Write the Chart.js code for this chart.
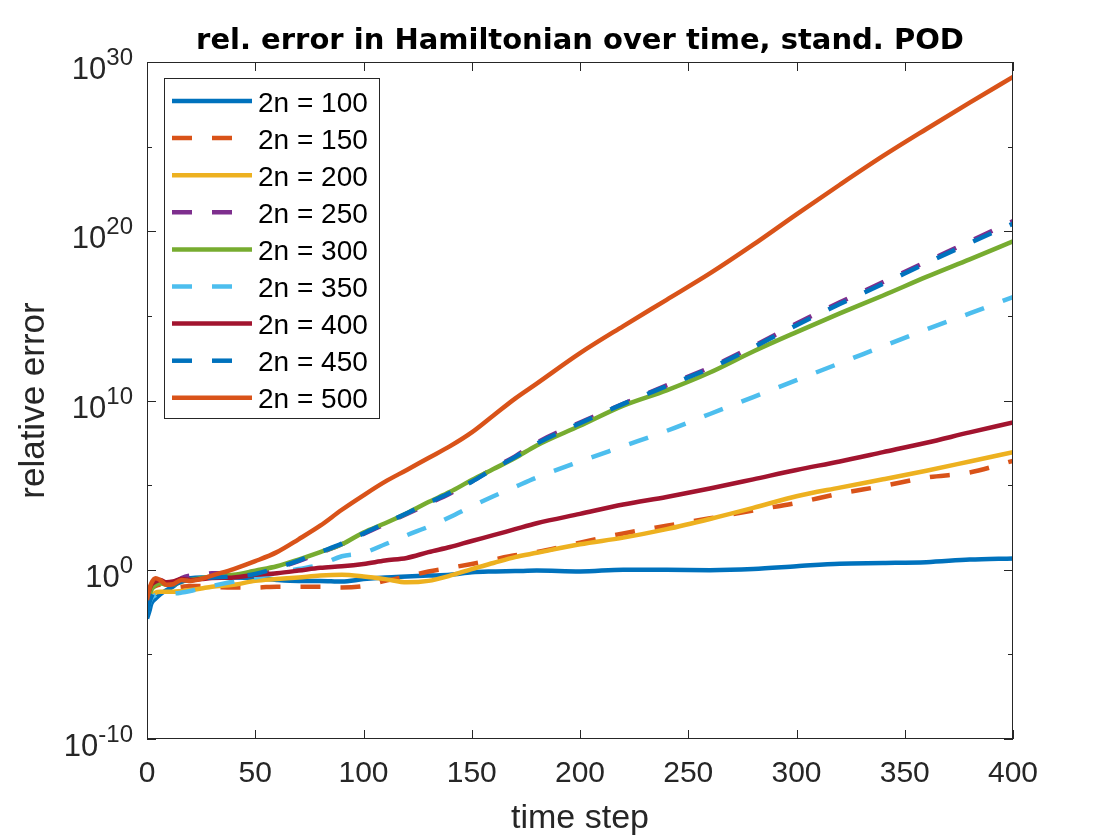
<!DOCTYPE html>
<html>
<head>
<meta charset="utf-8">
<script src="https://cdn.jsdelivr.net/npm/chart.js@4.4.0/dist/chart.umd.min.js"></script>
<style>
  html, body { margin: 0; padding: 0; background: #fff; }
  #wrap { width: 1120px; height: 840px; }
</style>
</head>
<body>
<div id="wrap"><canvas id="grafico" width="1120" height="840"></canvas></div>
<script>
// pasos de tiempo donde se leyeron los valores
const steps = [0, 1, 2, 4, 6, 9, 12, 16, 20, 25, 30, 40, 50, 60, 70, 80, 90, 100, 110, 120,
               130, 140, 150, 160, 170, 180, 200, 220, 240, 260, 280, 300, 320, 340, 360, 380, 400];

// error relativo por tamaño de base (2n)
const err100 = [1.3e-3, 3.2e-3, 1.0e-2, 2.0e-2, 3.5e-2, 6.3e-2, 1.0e-1, 2.5e-1, 3.2e-1, 3.5e-1, 3.5e-1, 3.5e-1, 3.2e-1, 2.5e-1, 2.2e-1, 2.2e-1, 2.0e-1, 2.8e-1, 3.5e-1, 4.0e-1,
                4.5e-1, 5.0e-1, 7.1e-1, 7.9e-1, 8.3e-1, 8.9e-1, 7.9e-1, 1.0, 1.0, 9.5e-1, 1.1, 1.6, 2.3, 2.5, 2.8, 4.0, 4.7];
const err150 = [2.5e-2, 5.0e-2, 7.9e-2, 1.1e-1, 1.3e-1, 1.0e-1, 8.9e-2, 1.0e-1, 1.1e-1, 1.1e-1, 1.0e-1, 8.9e-2, 8.9e-2, 1.0e-1, 1.0e-1, 1.0e-1, 8.9e-2, 1.1e-1, 2.2e-1, 4.0e-1,
                7.9e-1, 1.3, 2.2, 4.0, 7.1, 1.1e1, 4.0e1, 1.4e2, 4.0e2, 1.1e3, 3.2e3, 8.9e3, 3.2e4, 8.9e4, 2.8e5, 5.6e5, 2.7e6];
const err200 = [5.0e-3, 1.3e-2, 2.5e-2, 4.5e-2, 5.0e-2, 5.0e-2, 5.0e-2, 5.6e-2, 6.3e-2, 7.9e-2, 1.0e-1, 1.3e-1, 2.2e-1, 2.8e-1, 3.5e-1, 4.5e-1, 5.0e-1, 4.0e-1, 2.8e-1, 1.8e-1,
                2.2e-1, 4.5e-1, 1.1, 2.5, 5.6, 1.0e1, 3.2e1, 7.9e1, 2.5e2, 1.0e3, 4.5e3, 2.2e4, 7.1e4, 2.2e5, 7.1e5, 2.5e6, 8.9e6];
const err250 = [1.0e-2, 4.0e-2, 1.0e-1, 2.0e-1, 2.0e-1, 1.6e-1, 1.6e-1, 3.2e-1, 4.5e-1, 5.0e-1, 6.3e-1, 6.3e-1, 7.9e-1, 1.3, 3.2, 1.0e1, 3.2e1, 1.3e2, 5.0e2, 2.0e3,
                7.9e3, 3.2e4, 1.6e5, 1.0e6, 5.0e6, 3.2e7, 5.0e8, 6.3e9, 7.9e10, 8.9e11, 1.6e13, 3.5e14, 6.3e15, 1.0e17, 1.6e18, 2.5e19, 4.0e20];
const err300 = [5.0e-3, 2.5e-2, 6.3e-2, 1.3e-1, 1.6e-1, 1.3e-1, 1.3e-1, 2.0e-1, 2.5e-1, 3.2e-1, 4.0e-1, 5.0e-1, 8.9e-1, 1.6, 4.0, 1.1e1, 3.2e1, 1.6e2, 5.6e2, 2.2e3,
                1.0e4, 4.0e4, 2.0e5, 8.9e5, 4.0e6, 2.2e7, 3.2e8, 5.0e9, 4.0e10, 4.5e11, 7.9e12, 1.1e14, 1.4e15, 1.6e16, 2.0e17, 2.2e18, 2.5e19];
const err350 = [3.2e-3, 1.0e-2, 2.0e-2, 3.2e-2, 4.0e-2, 4.0e-2, 4.0e-2, 4.5e-2, 5.6e-2, 7.9e-2, 1.1e-1, 2.0e-1, 3.5e-1, 6.3e-1, 1.1, 2.0, 6.3, 1.0e1, 3.2e1, 1.1e2,
                3.5e2, 1.3e3, 5.6e3, 2.2e4, 7.9e4, 2.8e5, 2.5e6, 2.0e7, 1.6e8, 1.6e9, 1.6e10, 1.6e11, 1.6e12, 1.6e13, 1.6e14, 1.4e15, 1.3e16];
const err400 = [3.2e-2, 6.3e-2, 1.3e-1, 2.0e-1, 2.5e-1, 1.8e-1, 2.0e-1, 2.8e-1, 2.5e-1, 2.8e-1, 3.2e-1, 3.5e-1, 5.0e-1, 6.3e-1, 8.9e-1, 1.3, 1.6, 2.2, 3.5, 5.0,
                1.1e1, 2.2e1, 5.0e1, 1.1e2, 2.5e2, 5.6e2, 2.0e3, 7.1e3, 2.0e4, 6.3e4, 2.2e5, 7.9e5, 2.5e6, 8.9e6, 3.2e7, 1.3e8, 5.0e8];
const err450 = [2.5e-3, 1.0e-2, 2.5e-2, 6.3e-2, 1.0e-1, 1.0e-1, 1.3e-1, 2.0e-1, 2.5e-1, 3.2e-1, 3.5e-1, 4.0e-1, 5.6e-1, 1.3, 3.5, 1.1e1, 3.5e1, 1.4e2, 5.6e2, 2.2e3,
                8.9e3, 3.5e4, 1.6e5, 8.9e5, 4.5e6, 2.8e7, 4.5e8, 6.3e9, 7.1e10, 7.9e11, 1.4e13, 2.8e14, 5.0e15, 7.9e16, 1.3e18, 2.0e19, 2.8e20];
const err500 = [1.6e-2, 6.3e-2, 1.6e-1, 3.2e-1, 2.5e-1, 1.3e-1, 1.4e-1, 2.5e-1, 2.2e-1, 2.8e-1, 4.5e-1, 1.1, 3.2, 1.1e1, 6.3e1, 4.0e2, 3.5e3, 2.5e4, 1.6e5, 7.9e5,
                4.0e6, 2.0e7, 1.3e8, 1.3e9, 1.3e10, 1.0e11, 6.3e12, 2.5e14, 8.9e15, 3.2e17, 1.6e19, 1.0e21, 5.6e22, 2.8e24, 1.1e26, 4.0e27, 1.3e29];

const seriesValues = [err100, err150, err200, err250, err300, err350, err400, err450, err500];
const seriesLabels = ['2n = 100', '2n = 150', '2n = 200', '2n = 250', '2n = 300', '2n = 350', '2n = 400', '2n = 450', '2n = 500'];
const seriesColors = ['#0072BD', '#D95319', '#EDB120', '#7E2F8E', '#77AC30', '#4DBEEE', '#A2142F', '#0072BD', '#D95319'];
const seriesDashed = [false, true, false, true, false, true, false, true, false];

const xTicks = [0, 50, 100, 150, 200, 250, 300, 350, 400];
const yTicks = [1e-10, 1e-5, 1, 1e5, 1e10, 1e15, 1e20, 1e25, 1e30];
const yLabelTicks = [1e-10, 1, 1e10, 1e20, 1e30];
const yLabelExps = ['-10', '0', '10', '20', '30'];

const fuente = '"Liberation Sans", Arial, Helvetica, sans-serif';
const fuenteTitulo = '"DejaVu Sans", "Liberation Sans", sans-serif';
const gris = '#262626';

// caja de ejes con marcas hacia dentro y etiquetas 10^n
const marcoEjes = {
    id: 'marcoEjes',
    afterDatasetsDraw(chart) {
        const {ctx, chartArea: a, scales: {x, y}} = chart;
        ctx.save();
        ctx.strokeStyle = gris;
        ctx.lineWidth = 1;
        ctx.beginPath();
        xTicks.forEach(v => {
            const px = Math.round(x.getPixelForValue(v)) + 0.5;
            ctx.moveTo(px, a.bottom); ctx.lineTo(px, a.bottom - 9);
            ctx.moveTo(px, a.top); ctx.lineTo(px, a.top + 9);
        });
        yTicks.forEach(v => {
            const py = Math.round(y.getPixelForValue(v)) + 0.5;
            const largo = yLabelTicks.includes(v) ? 9 : 5;
            ctx.moveTo(a.left, py); ctx.lineTo(a.left + largo, py);
            ctx.moveTo(a.right, py); ctx.lineTo(a.right - largo, py);
        });
        ctx.stroke();
        ctx.strokeRect(a.left + 0.5, a.top + 0.5, a.right - a.left - 1, a.bottom - a.top - 1);

        // etiquetas del eje y con exponente
        ctx.fillStyle = gris;
        ctx.textAlign = 'right';
        ctx.textBaseline = 'alphabetic';
        yLabelTicks.forEach((v, i) => {
            const py = y.getPixelForValue(v);
            const derecha = a.left - 14;
            ctx.font = '24px ' + fuente;
            ctx.fillText(yLabelExps[i], derecha, py + 3);
            const w = ctx.measureText(yLabelExps[i]).width;
            ctx.font = '31px ' + fuente;
            ctx.fillText('10', derecha - w, py + 17);
        });
        ctx.restore();
    }
};

// leyenda dentro del area del grafico
const leyenda = {
    id: 'leyenda',
    afterDraw(chart) {
        const {ctx, chartArea: a} = chart;
        const left = a.left + 17, top = a.top + 16, w = 215, h = 340, fila = 37.1;
        ctx.save();
        ctx.fillStyle = '#fff';
        ctx.fillRect(left, top, w, h);
        ctx.strokeStyle = gris;
        ctx.lineWidth = 1;
        ctx.strokeRect(left + 0.5, top + 0.5, w, h);
        chart.data.datasets.forEach((ds, i) => {
            const cy = top + 23 + i * fila;
            ctx.beginPath();
            ctx.strokeStyle = ds.borderColor;
            ctx.lineWidth = ds.borderWidth;
            ctx.setLineDash(ds.borderDash);
            ctx.moveTo(left + 8, cy);
            ctx.lineTo(left + 88, cy);
            ctx.stroke();
            ctx.setLineDash([]);
            ctx.fillStyle = '#000';
            ctx.font = '28px ' + fuente;
            ctx.textAlign = 'left';
            ctx.textBaseline = 'alphabetic';
            ctx.fillText(ds.label, left + 94, cy + 10.5);
        });
        ctx.restore();
    }
};

const datasets = seriesValues.map((vals, i) => ({
    label: seriesLabels[i],
    data: steps.map((t, k) => ({x: t, y: vals[k]})),
    borderColor: seriesColors[i],
    backgroundColor: seriesColors[i],
    borderWidth: 4.5,
    borderDash: seriesDashed[i] ? [20, 20] : [],
    pointRadius: 0,
    cubicInterpolationMode: 'monotone',
    fill: false,
    order: seriesValues.length - i // la ultima serie queda encima
}));

new Chart(document.getElementById('grafico'), {
    type: 'line',
    data: {datasets: datasets},
    plugins: [marcoEjes, leyenda],
    options: {
        responsive: false,
        animation: false,
        layout: {padding: {left: 0, right: 107, top: 0, bottom: 0}},
        plugins: {
            legend: {display: false},
            tooltip: {enabled: false},
            title: {
                display: true,
                fullSize: false,
                text: 'rel. error in Hamiltonian over time, stand. POD',
                color: '#000',
                font: {family: fuenteTitulo, size: 29, weight: 'bold', lineHeight: 1.2},
                padding: {top: 23.6, bottom: 3.6}
            }
        },
        scales: {
            x: {
                type: 'linear',
                min: 0,
                max: 400,
                afterBuildTicks: s => { s.ticks = xTicks.map(v => ({value: v})); },
                afterFit: s => { s.height = 101; },
                grid: {display: false, drawTicks: false},
                border: {display: false},
                ticks: {
                    font: {family: fuente, size: 30},
                    color: gris,
                    padding: 17,
                    maxRotation: 0,
                    autoSkip: false,
                    callback: v => String(v)
                },
                title: {
                    display: true,
                    text: 'time step',
                    color: gris,
                    font: {family: fuente, size: 34, lineHeight: 1.2},
                    padding: {top: 0, bottom: 0.6}
                }
            },
            y: {
                type: 'logarithmic',
                min: 1e-10,
                max: 1e30,
                afterBuildTicks: s => { s.ticks = yTicks.map(v => ({value: v})); },
                afterFit: s => { s.width = 147; },
                grid: {display: false, drawTicks: false},
                border: {display: false},
                ticks: {display: false},
                title: {
                    display: true,
                    text: 'relative error',
                    color: gris,
                    font: {family: fuente, size: 35, lineHeight: 1.2},
                    padding: {top: 13, bottom: 0}
                }
            }
        }
    }
});
</script>
</body>
</html>
